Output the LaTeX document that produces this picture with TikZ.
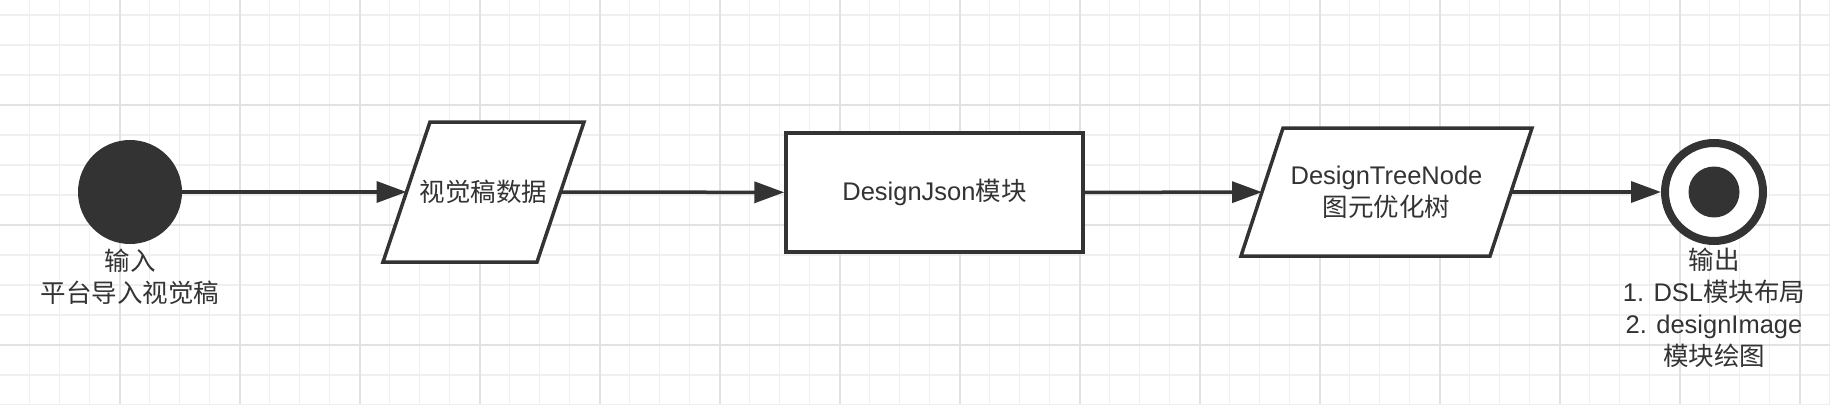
\documentclass[tikz,border=0pt]{standalone}
\usepackage{fontspec}
\setmainfont{Liberation Sans}
\newfontfamily\cjk{Noto Sans CJK SC}
\usetikzlibrary{arrows.meta}
\definecolor{ink}{HTML}{333333}
\definecolor{gridminor}{HTML}{EFEFEF}
\definecolor{gridmajor}{HTML}{E2E2E2}
\begin{document}
\begin{tikzpicture}[x=1pt,y=-1pt,
  every node/.style={font=\fontsize{25.5}{32}\selectfont, text=ink},
  minorgrid/.style={draw=gridminor, line width=1.2pt},
  majorgrid/.style={draw=gridmajor, line width=2pt},
  flow/.style={draw=ink, line width=3.5pt, -{Triangle[length=30pt,width=21pt]}},
  parabox/.style={rectangle, draw=none, inner sep=0pt, outer sep=1.75pt},
  paraline/.style={draw=ink, line width=3.5pt, fill=white, line join=miter},
  procbox/.style={rectangle, draw=ink, line width=3.5pt, fill=white, inner sep=0pt,
    minimum width=297pt, minimum height=119pt},
  startdot/.style={circle, fill=ink, draw=none, minimum size=104pt, inner sep=0pt},
  endring/.style={circle, draw=ink, line width=8pt, fill=white, minimum size=98pt, inner sep=0pt},
  enddot/.style={circle, fill=ink, draw=none, minimum size=51pt, inner sep=0pt},
  lbl/.style={align=center, inner sep=0pt}
]
\useasboundingbox (0,0) rectangle (1830,404);
\fill[white] (0,0) rectangle (1830,404);
% grid
\foreach \i in {0,...,60} {
  \pgfmathsetmacro\xx{29.5+30*\i}
  \draw[minorgrid] (\xx,0) -- (\xx,404);
}
\foreach \i in {0,...,13} {
  \pgfmathsetmacro\yy{15+30*\i}
  \draw[minorgrid] (0,\yy) -- (1830,\yy);
}
\foreach \i in {0,...,14} {
  \pgfmathsetmacro\xx{119.5+120*\i}
  \draw[majorgrid] (\xx,0) -- (\xx,404);
}
\foreach \yy in {105,225,345} {
  \draw[majorgrid] (0,\yy) -- (1830,\yy);
}
% nodes
\node[startdot] (start) at (130,192) {};

\node[parabox, minimum width=150.5pt, minimum height=136.5pt] (p1) at (483.5,192) {};
\path[paraline] ([xshift=-23.5pt]p1.south west) -- ([xshift=23.5pt]p1.north west)
  -- ([xshift=23.5pt]p1.north east) -- ([xshift=-23.5pt]p1.south east) -- cycle;
\node (p1text) at (p1.center) {{\cjk 视觉稿数据}};

\node[procbox] (json) at (934.5,192.5) {DesignJson{\cjk 模块}};

\node[parabox, minimum width=245.5pt, minimum height=124.5pt] (p2) at (1386.5,192) {};
\path[paraline] ([xshift=-21pt]p2.south west) -- ([xshift=21pt]p2.north west)
  -- ([xshift=21pt]p2.north east) -- ([xshift=-21pt]p2.south east) -- cycle;
\node[align=center] (p2text) at (p2.center) {DesignTreeNode\\{\cjk 图元优化树}};

\node[endring] (stop) at (1714,192) {};
\node[enddot] (stopdot) at (stop.center) {};
% labels
\node[lbl] (inlbl) at (130,277) {{\cjk 输入}\\{\cjk 平台导入视觉稿}};
\node[lbl] (outlbl) at (1714,308) {{\cjk 输出}\\1. DSL{\cjk 模块布局}\\2. designImage\\{\cjk 模块绘图}};
% connectors
\draw[flow] (start) -- (p1);
\draw[flow] (p1) -- (json);
\draw[flow] (json) -- (p2);
\draw[flow] (p2) -- (stop);
\end{tikzpicture}
\end{document}
